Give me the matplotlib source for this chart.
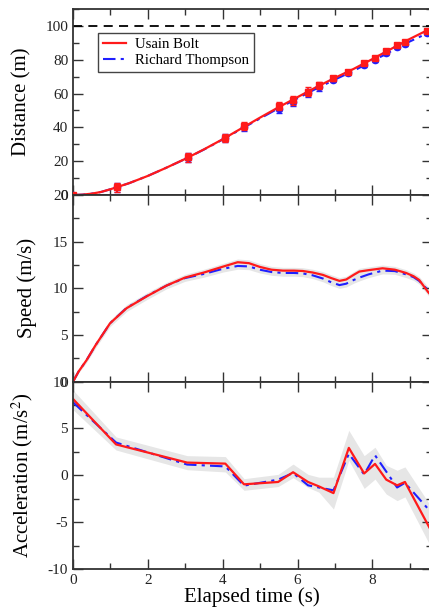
import matplotlib
matplotlib.use("Agg")
import matplotlib.pyplot as plt
from matplotlib.ticker import MultipleLocator
import numpy as np

plt.rcParams['font.family'] = ['Liberation Serif', 'DejaVu Serif']
plt.rcParams['mathtext.fontset'] = 'stix'
plt.rcParams['axes.unicode_minus'] = False

# split times (s) and measured distances (m)
t_split = [0, 1.17, 3.08, 4.07, 4.57, 5.50, 5.88, 6.28, 6.57, 6.96, 7.34, 7.78, 8.07, 8.37, 8.66, 8.86, 9.45]
bolt_dist = [0, 4.6, 22.2, 33.9, 40.6, 52.5, 55.9, 61.2, 64.8, 69.0, 72.6, 77.8, 81.3, 85.0, 88.6, 90.4, 97.2]
thompson_dist = [0, 4.5, 22.0, 33.6, 40.2, 51.0, 54.8, 60.2, 63.6, 68.2, 72.0, 76.8, 79.8, 83.9, 87.5, 89.4, 95.8]
dist_err = [0.8, 2.6, 2.6, 2.4, 2.4, 2.4, 2.4, 2.4, 2.0, 1.5, 1.2, 1.2, 1.2, 1.2, 1.2, 1.2, 1.2]

# smooth distance curves
t_curve = [0, 0.25, 0.5, 0.75, 1.0, 1.5, 2.0, 2.5, 3.0, 3.5, 4.0, 4.5, 5.0, 5.5, 6.0, 6.5, 7.0, 7.5, 8.0, 8.5, 9.0, 9.58]
bolt_curve = [0, 0.2, 0.8, 1.8, 3.4, 7.0, 11.3, 16.2, 21.4, 27.0, 33.0, 39.4, 45.8, 52.0, 57.9, 63.8, 69.3, 74.6, 80.4, 86.4, 92.3, 98.7]
thompson_curve = [0, 0.2, 0.8, 1.8, 3.4, 7.0, 11.3, 16.2, 21.3, 26.9, 32.8, 39.1, 45.3, 51.4, 57.2, 62.9, 68.3, 73.5, 79.2, 85.0, 90.8, 96.8]

# speed (m/s)
t_speed = [0, 0.15, 0.36, 0.6, 0.99, 1.43, 1.99, 2.5, 2.99, 3.5, 4.01, 4.4, 4.7, 4.99, 5.3, 5.61,
           5.9, 6.14, 6.4, 6.68, 6.9, 7.12, 7.3, 7.5, 7.65, 7.9, 8.27, 8.6, 8.9, 9.1, 9.25, 9.49, 9.58]
bolt_speed = [0, 1.1, 2.3, 3.9, 6.26, 7.87, 9.19, 10.3, 11.15, 11.7, 12.33, 12.8, 12.7, 12.3, 12.0, 11.9,
              11.9, 11.86, 11.7, 11.44, 11.1, 10.8, 10.95, 11.45, 11.8, 11.95, 12.15, 12.0, 11.65, 11.3, 10.9, 9.6, 9.2]
thompson_speed = [0, 1.1, 2.3, 3.9, 6.26, 7.9, 9.22, 10.3, 11.1, 11.55, 12.1, 12.4, 12.35, 12.0, 11.75, 11.65,
                  11.65, 11.6, 11.4, 11.05, 10.65, 10.35, 10.5, 10.9, 11.15, 11.5, 11.9, 11.85, 11.5, 11.2, 10.8, 9.8, 9.4]
speed_err = [0.05, 0.15, 0.25, 0.3, 0.35, 0.35, 0.35, 0.35, 0.35, 0.35, 0.35, 0.35, 0.35, 0.35, 0.35, 0.35,
             0.35, 0.35, 0.35, 0.35, 0.35, 0.35, 0.35, 0.35, 0.35, 0.35, 0.35, 0.35, 0.35, 0.35, 0.35, 0.35, 0.35]

# acceleration (m/s^2)
t_acc = [0, 1.15, 3.05, 4.07, 4.57, 5.48, 5.88, 6.28, 6.57, 6.96, 7.37, 7.78, 8.07, 8.37, 8.66, 8.87, 9.58]
bolt_acc = [8.15, 3.3, 1.36, 1.25, -0.96, -0.71, 0.33, -0.71, -1.18, -1.9, 2.93, 0.2, 1.22, -0.46, -1.07, -0.71, -6.0]
thompson_acc = [7.8, 3.5, 1.15, 0.95, -1.1, -0.46, 0.25, -1.07, -1.3, -1.6, 2.3, 0.1, 2.14, 0.4, -1.3, -0.8, -4.0]
acc_hi = [9.1, 4.1, 2.1, 2.0, -0.36, 0.1, 1.2, 0.1, -0.2, -0.2, 4.8, 2.1, 3.0, 1.07, 0.54, 0.9, -3.4]
acc_lo = [7.0, 2.7, 0.6, 0.36, -1.6, -1.2, -0.25, -1.3, -1.8, -3.6, 1.6, -1.4, -0.4, -2.0, -2.7, -2.3, -7.8]

RED = '#ff1a1a'
BLUE = '#1f1fff'
BAND = '#e6e6e6'
DASHDOT = (0, (6, 2.5, 1.5, 2.5))

fig = plt.figure(figsize=(4.29, 6.09), dpi=100)
left, width = 0.1702, 0.8357
ax1 = fig.add_axes([left, 0.6798, width, 0.3054])
ax2 = fig.add_axes([left, 0.3732, width, 0.3066])
ax3 = fig.add_axes([left, 0.0657, width, 0.3076])

for ax in (ax1, ax2, ax3):
    ax.set_xlim(0, 9.58)
    ax.xaxis.set_major_locator(MultipleLocator(2))
    ax.xaxis.set_minor_locator(MultipleLocator(1))
    ax.tick_params(which='both', direction='in', top=True, right=True, colors='#333333',
                   labelsize=11, labelcolor='#222222', width=1.0)
    ax.tick_params(which='major', length=7)
    ax.tick_params(which='minor', length=4)
    for s in ax.spines.values():
        s.set_color('#333333')
        s.set_linewidth(1.3)
    if ax is not ax3:
        ax.tick_params(labelbottom=False)

# distance
ax1.axhline(100, color='black', lw=1.3, dashes=(5, 3.5))
ax1.plot(t_curve, thompson_curve, color=BLUE, lw=1.5, linestyle=DASHDOT, label='Richard Thompson')
ax1.plot(t_curve, bolt_curve, color=RED, lw=1.6, label='Usain Bolt')
ax1.errorbar(t_split, thompson_dist, yerr=dist_err, fmt='o', color=BLUE, ms=4.5, capsize=2, elinewidth=1.2, zorder=3)
ax1.errorbar(t_split, bolt_dist, yerr=dist_err, fmt='s', color=RED, ms=4.2, capsize=2, elinewidth=1.2, zorder=4)
ax1.set_ylim(0, 110)
ax1.yaxis.set_major_locator(MultipleLocator(20))
ax1.yaxis.set_minor_locator(MultipleLocator(10))
ax1.set_ylabel('Distance (m)', fontsize=15)
ax1.yaxis.set_label_coords(-0.117, 0.5)
handles, labels = ax1.get_legend_handles_labels()
leg = ax1.legend(handles[::-1][:2], labels[::-1][:2], loc='upper left', bbox_to_anchor=(0.07, 0.872),
                 borderaxespad=0, fontsize=10.7, fancybox=False, edgecolor='#444444', framealpha=1,
                 handlelength=1.5, handletextpad=0.6, labelspacing=0.15, borderpad=0.35)
leg.get_frame().set_linewidth(1.0)

# speed
lo = np.minimum(bolt_speed, thompson_speed) - np.array(speed_err)
hi = np.maximum(bolt_speed, thompson_speed) + np.array(speed_err)
ax2.fill_between(t_speed, lo, hi, color=BAND, lw=0)
ax2.plot(t_speed, thompson_speed, color=BLUE, lw=1.5, linestyle=DASHDOT)
ax2.plot(t_speed, bolt_speed, color=RED, lw=1.6)
ax2.set_ylim(0, 20)
ax2.yaxis.set_major_locator(MultipleLocator(5))
ax2.yaxis.set_minor_locator(MultipleLocator(2.5))
ax2.set_ylabel('Speed (m/s)', fontsize=15)
ax2.yaxis.set_label_coords(-0.10, 0.5)

# acceleration
ax3.fill_between(t_acc, acc_lo, acc_hi, color=BAND, lw=0)
ax3.plot(t_acc, thompson_acc, color=BLUE, lw=1.5, linestyle=DASHDOT)
ax3.plot(t_acc, bolt_acc, color=RED, lw=1.6)
ax3.set_ylim(-10, 10)
ax3.yaxis.set_major_locator(MultipleLocator(5))
ax3.yaxis.set_minor_locator(MultipleLocator(2.5))
ax3.set_ylabel('Acceleration (m/s$^2$)', fontsize=15)
ax3.yaxis.set_label_coords(-0.106, 0.5)
ax3.set_xlabel('Elapsed time (s)', fontsize=15)
ax3.xaxis.set_label_coords(0.5, -0.10)

fig.savefig('out.png', dpi=100)
